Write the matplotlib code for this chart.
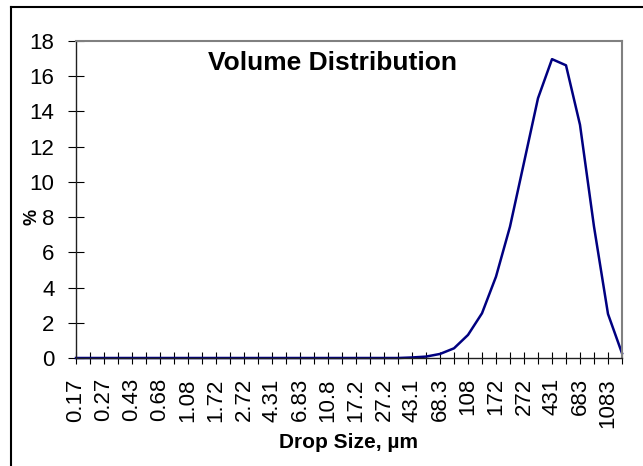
import numpy as np
import matplotlib.pyplot as plt
from matplotlib.lines import Line2D

plt.rcParams['font.family'] = ['Liberation Sans', 'DejaVu Sans']

# drop size classes (um) and volume %
sizes = ["0.17", "0.21", "0.27", "0.34", "0.43", "0.54", "0.68", "0.86",
         "1.08", "1.36", "1.72", "2.16", "2.72", "3.42", "4.31", "5.42",
         "6.83", "8.6", "10.8", "13.6", "17.2", "21.6", "27.2", "34.2",
         "43.1", "54.2", "68.3", "86", "108", "136", "172", "216",
         "272", "342", "431", "542", "683", "860", "1083", "1363"]
volume = [0, 0, 0, 0, 0, 0, 0, 0,
          0, 0, 0, 0, 0, 0, 0, 0,
          0, 0, 0, 0, 0, 0, 0, 0,
          0.03, 0.08, 0.23, 0.55, 1.31, 2.54, 4.62, 7.46,
          11.1, 14.75, 16.97, 16.62, 13.24, 7.46, 2.5, 0.27]
y_ticks = [0, 2, 4, 6, 8, 10, 12, 14, 16, 18]

W, H = 643, 466
fig = plt.figure(figsize=(W / 100, H / 100), dpi=100)
ax = fig.add_axes([76 / W, 1 - 358 / H, 546 / W, 317 / H])

x = np.arange(len(sizes))
ax.plot(x, volume, color="#000080", lw=1.8, clip_on=False)

ax.set_xlim(0, len(sizes) - 1)
ax.set_ylim(0, 18)
ax.set_yticks(y_ticks)
ax.set_xticks(x)
ax.set_xticklabels([s if i % 2 == 0 else "" for i, s in enumerate(sizes)],
                   rotation=90, fontsize=16)
ax.tick_params(axis="y", direction="inout", length=12, width=0.8,
               labelsize=16, pad=9.5)
ax.tick_params(axis="x", direction="inout", length=9, width=0.8, pad=10)

for side in ["top", "right"]:
    ax.spines[side].set_color("#808080")
    ax.spines[side].set_linewidth(1.5)
for side in ["left", "bottom"]:
    ax.spines[side].set_color("#202020")
    ax.spines[side].set_linewidth(1.0)

ax.text(0.47, 0.93, "Volume Distribution", transform=ax.transAxes,
        ha="center", va="center", fontsize=19, fontweight="bold")

fig.text(348.5 / W, 1 - 442 / H, "Drop Size, \u00b5m", ha="center",
         va="center", fontsize=15, fontweight="bold")
fig.text(32 / W, 1 - 217 / H, "%", ha="center", va="center", rotation=90,
         fontsize=13, fontweight="bold")

# outer chart border
fig.add_artist(Line2D([11 / W, 11 / W], [0, 1 - 7 / H], color="black",
                      lw=1.5, transform=fig.transFigure))
fig.add_artist(Line2D([11 / W, 1], [1 - 7 / H, 1 - 7 / H], color="black",
                      lw=1.5, transform=fig.transFigure))

fig.savefig("out.png", dpi=100)
